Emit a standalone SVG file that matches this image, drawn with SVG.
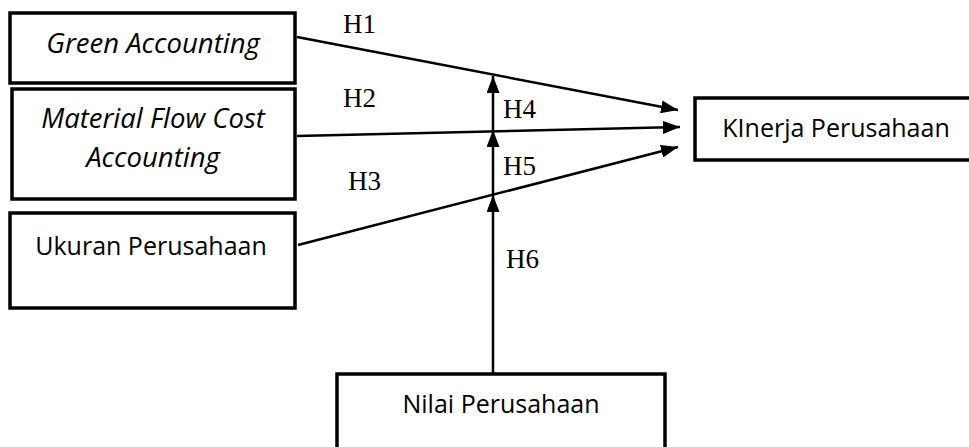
<svg xmlns="http://www.w3.org/2000/svg" width="969" height="447" viewBox="0 0 969 447">
<style>
.box{fill:#fff;stroke:#000;stroke-width:3.5}
.t{font-family:"Open Sans","Liberation Sans",sans-serif;font-size:25px;fill:#000;text-anchor:middle}
.i{font-style:italic;font-size:27.5px}
.lbl{font-family:"Liberation Serif","Times New Roman",serif;font-size:27px;fill:#000}
.c{stroke:#000;stroke-width:2.5;fill:none}
</style>
<defs>
<marker id="ah" markerWidth="17" markerHeight="13" refX="17" refY="6.5" orient="auto" markerUnits="userSpaceOnUse">
<path d="M0,0 L17,6.5 L0,13 Z" fill="#000"/>
</marker>
</defs>
<rect width="969" height="447" fill="#fff"/>
<g id="green-accounting">
<rect class="box" x="10" y="13" width="285" height="70"/>
<text class="t i" x="153" y="53">Green Accounting</text>
</g>
<g id="mfca">
<rect class="box" x="12" y="89" width="283" height="110"/>
<text class="t i" x="153" y="128">Material Flow Cost</text>
<text class="t i" x="153" y="167">Accounting</text>
</g>
<g id="ukuran">
<rect class="box" x="10" y="213" width="285" height="95"/>
<text class="t" x="151" y="255">Ukuran Perusahaan</text>
</g>
<g id="kinerja">
<rect class="box" x="695" y="98" width="290" height="62"/>
<text class="t" x="836" y="137">KInerja Perusahaan</text>
</g>
<g id="nilai">
<rect class="box" x="337" y="374" width="328" height="90"/>
<text class="t" x="501" y="413">Nilai Perusahaan</text>
</g>
<g id="connectors">
<line class="c" x1="297" y1="37" x2="678" y2="110" marker-end="url(#ah)"/>
<line class="c" x1="297" y1="136" x2="680" y2="127" marker-end="url(#ah)"/>
<line class="c" x1="298" y1="245" x2="678" y2="147" marker-end="url(#ah)"/>
<line class="c" x1="493" y1="374" x2="493" y2="195" marker-end="url(#ah)"/>
<line class="c" x1="493" y1="195" x2="493" y2="130" marker-end="url(#ah)"/>
<line class="c" x1="493" y1="130" x2="493" y2="76" marker-end="url(#ah)"/>
</g>
<g id="labels">
<text class="lbl" x="343" y="33">H1</text>
<text class="lbl" x="343" y="107">H2</text>
<text class="lbl" x="348" y="190">H3</text>
<text class="lbl" x="503" y="118">H4</text>
<text class="lbl" x="503" y="175">H5</text>
<text class="lbl" x="506" y="268">H6</text>
</g>
</svg>
